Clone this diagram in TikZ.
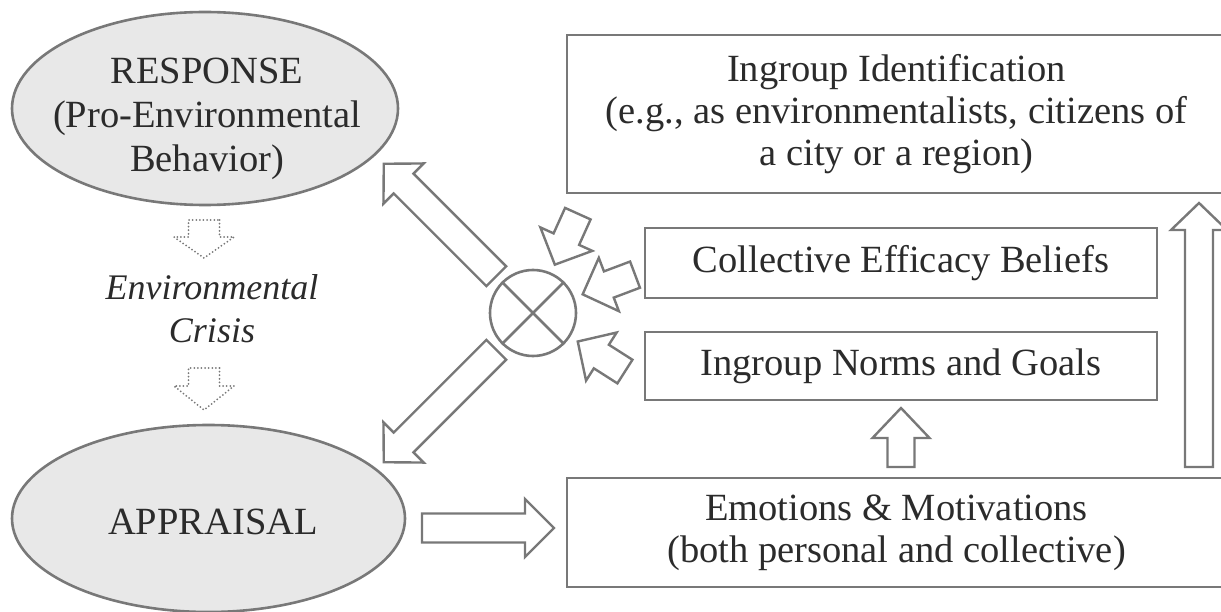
\documentclass[tikz,border=0pt]{standalone}
\usepackage{fontspec}
\setmainfont{Liberation Serif}
\usetikzlibrary{calc,shapes.geometric}

\definecolor{linegray}{gray}{0.47}
\definecolor{fillgray}{gray}{0.91}
\definecolor{inkgray}{gray}{0.17}

\tikzset{
  outline/.style={draw=linegray, line width=2.6pt},
  oval/.style={ellipse, outline, fill=fillgray, inner sep=0pt},
  panel/.style={rectangle, outline, inner sep=0pt, text=inkgray, align=center,
                font=\fontsize{38.5}{42}\selectfont},
  ovaltext/.style={text=inkgray, align=center, inner sep=0pt,
                font=\fontsize{38.5}{44}\selectfont},
  blockshape/.style={draw=linegray, line width=2.4pt, fill=white, line join=miter},
  dotshape/.style={draw=linegray, line width=2pt, line cap=round,
                dash pattern=on 0pt off 3.6pt},
}

% block arrow: [style]{from}{to}{shaft width}{head width}{head length}
\newcommand{\blockarrow}[6][blockshape]{%
  \path[#1] let \p1=(#2), \p2=(#3),
    \n1={atan2(\y2-\y1,\x2-\x1)}, \n2={veclen(\x2-\x1,\y2-\y1)} in
    {[shift={(\p1)}, rotate=\n1]
     (0,{-#4/2}) -- ({\n2-#6},{-#4/2}) -- ({\n2-#6},{-#5/2}) -- (\n2,0)
     -- ({\n2-#6},{#5/2}) -- ({\n2-#6},{#4/2}) -- (0,{#4/2}) -- cycle};
}

\begin{document}
\begin{tikzpicture}[x=1pt, y=-1pt]
  \useasboundingbox (0,0) rectangle (1221,612);
  \clip (0,0) rectangle (1221,612);

  % left column: response, crisis, appraisal
  \node[oval, minimum width=386pt, minimum height=193pt] (resp) at (205,108.5) {};
  \node[ovaltext] (resptext) at (207,119) {RESPONSE\\(Pro-Environmental\\Behavior)};
  \node[oval, minimum width=393pt, minimum height=187pt] (appr) at (208.5,518.5) {};
  \node[ovaltext] (apprtext) at (213,522) {APPRAISAL};
  \node[ovaltext, font=\fontsize{36}{43}\itshape] (crisis) at (212,309) {Environmental\\Crisis};

  % combining node
  \node[circle, outline, minimum size=86pt, inner sep=0pt] (mix) at (533,313) {};
  \draw[outline] (mix.45) -- (mix.225);
  \draw[outline] (mix.135) -- (mix.315);

  % right column: boxes
  \node[panel, minimum width=659pt, minimum height=158pt] (ident) at (896.5,114)
    {Ingroup Identification\\(e.g., as environmentalists, citizens of\\a city or a region)};
  \node[panel, minimum width=512pt, minimum height=70pt] (effic) at (901,263)
    {Collective Efficacy Beliefs};
  \node[panel, minimum width=512pt, minimum height=68pt] (norms) at (901,366)
    {Ingroup Norms and Goals};
  \node[panel, minimum width=659pt, minimum height=109pt] (emot) at (896.5,532.5)
    {Emotions \& Motivations\\(both personal and collective)};

  % arrow end points
  \coordinate (toResp0) at ($(mix)+(225:52)$);
  \coordinate (toResp1) at ($(mix)+(225:211)$);
  \coordinate (toAppr0) at ($(mix)+(135:52)$);
  \coordinate (toAppr1) at ($(mix)+(135:211)$);
  \coordinate (fromIdent0) at ($(mix)+(-65.7:109)$);
  \coordinate (fromIdent1) at ($(mix)+(-65.7:53)$);
  \coordinate (fromEffic0) at ($(mix)+(-20.6:109)$);
  \coordinate (fromEffic1) at ($(mix)+(-20.6:53)$);
  \coordinate (fromNorms0) at ($(mix)+(32.5:109)$);
  \coordinate (fromNorms1) at ($(mix)+(32.5:53)$);
  \coordinate (apprOut) at (422,528);
  \coordinate (emotIn) at (554,528);
  \coordinate (emotUp0) at (901,467);
  \coordinate (emotUp1) at (901,408);
  \coordinate (sideUp0) at (1199,467);
  \coordinate (sideUp1) at (1199,203);
  \coordinate (crisisA0) at (204,220);
  \coordinate (crisisA1) at (204,258);
  \coordinate (crisisB0) at (204,368);
  \coordinate (crisisB1) at (204,410);

  % block arrows
  \blockarrow{toResp0}{toResp1}{28}{57}{28}
  \blockarrow{toAppr0}{toAppr1}{28}{57}{28}
  \blockarrow{fromIdent0}{fromIdent1}{28}{57}{28}
  \blockarrow{fromEffic0}{fromEffic1}{28}{57}{28}
  \blockarrow{fromNorms0}{fromNorms1}{28}{57}{28}
  \blockarrow{apprOut}{emotIn}{29}{58}{29}
  \blockarrow{emotUp0}{emotUp1}{27}{57}{30}
  \blockarrow{sideUp0}{sideUp1}{28}{56}{27}
  \blockarrow[dotshape]{crisisA0}{crisisA1}{31}{60}{21}
  \blockarrow[dotshape]{crisisB0}{crisisB1}{31}{60}{24}
\end{tikzpicture}
\end{document}
